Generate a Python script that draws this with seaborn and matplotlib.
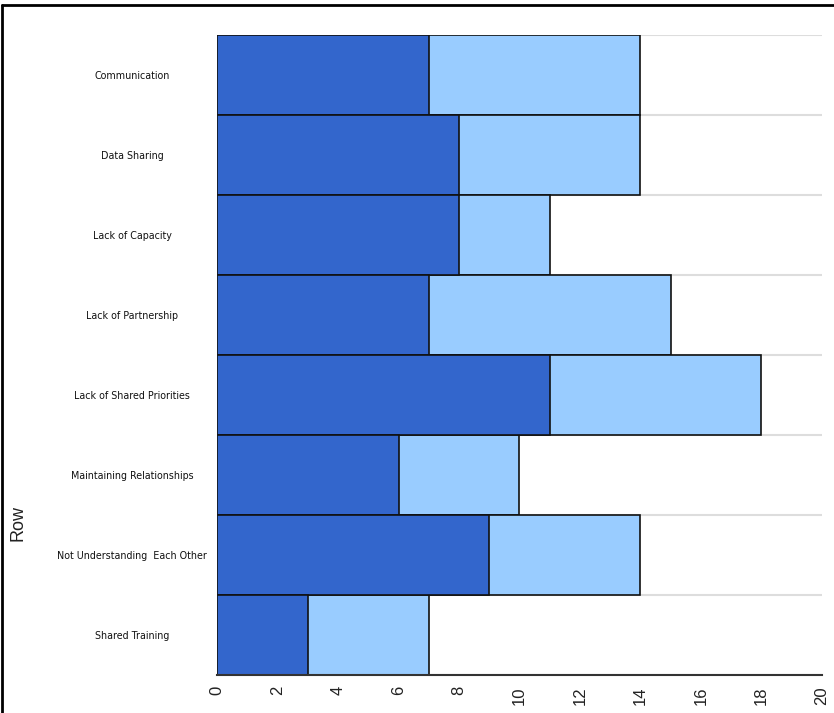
import numpy as np
import pandas as pd
import matplotlib
matplotlib.use("Agg")
import matplotlib.pyplot as plt
from matplotlib.lines import Line2D
import seaborn as sns

categories = [
    "Communication",
    "Data Sharing",
    "Lack of Capacity",
    "Lack of Partnership",
    "Lack of Shared Priorities",
    "Maintaining Relationships",
    "Not Understanding  Each Other",
    "Shared Training",
]
series_a = [7, 8, 8, 7, 11, 6, 9, 3]
series_b = [7, 6, 3, 8, 7, 4, 5, 4]
x_ticks = [0, 2, 4, 6, 8, 10, 12, 14, 16, 18, 20]

df = pd.DataFrame({"Row": categories, "a": series_a, "b": series_b})
df["total"] = df["a"] + df["b"]

sns.set_theme(style="white")
plt.rcParams["font.family"] = ["Liberation Sans", "DejaVu Sans"]

fig = plt.figure(figsize=(8.34, 7.13), dpi=100)
ax = fig.add_axes([0.2602, 0.0533, 0.7254, 0.8976])

sns.barplot(data=df, y="Row", x="total", orient="h", color="#99ccff",
            saturation=1, width=1.0, edgecolor="#111111", linewidth=1.2, ax=ax)
sns.barplot(data=df, y="Row", x="a", orient="h", color="#3366cc",
            saturation=1, width=1.0, edgecolor="#111111", linewidth=1.2, ax=ax)

ax.set_xlim(0, 20)
ax.set_ylim(len(categories) - 0.5, -0.5)
ax.set_xticks(x_ticks)
ax.set_xticklabels([str(t) for t in x_ticks], rotation=90, fontsize=12,
                   color="#222222")
ax.tick_params(axis="x", length=0, pad=8)
ax.tick_params(axis="y", length=0, pad=0)
for lbl in ax.get_yticklabels():
    lbl.set_ha("center")
    lbl.set_fontsize(7.7)
    lbl.set_fontfamily("DejaVu Sans")
    lbl.set_fontstretch("condensed")
    lbl.set_color("#111111")
    lbl.set_x(-0.1405)

ax.set_yticks(np.arange(-0.5, len(categories), 1.0), minor=True)
ax.grid(which="minor", axis="y", color="#dddddd", linewidth=1.5)
ax.set_axisbelow(True)
ax.set_xlabel("")
ax.set_ylabel("Row", fontsize=13, color="#222222")
ax.yaxis.set_label_coords(-0.315, 0.2375)

for side in ["top", "right", "left"]:
    ax.spines[side].set_visible(False)
ax.spines["bottom"].set_color("#333333")
ax.spines["bottom"].set_linewidth(1.5)

# frame lines along the top and left edges of the figure
fig.add_artist(Line2D([0.0025, 1.0], [0.993, 0.993], color="black", linewidth=2, transform=fig.transFigure))
fig.add_artist(Line2D([0.0025, 0.0025], [0.0, 0.993], color="black", linewidth=2, transform=fig.transFigure))

fig.savefig("out.png", dpi=100)
